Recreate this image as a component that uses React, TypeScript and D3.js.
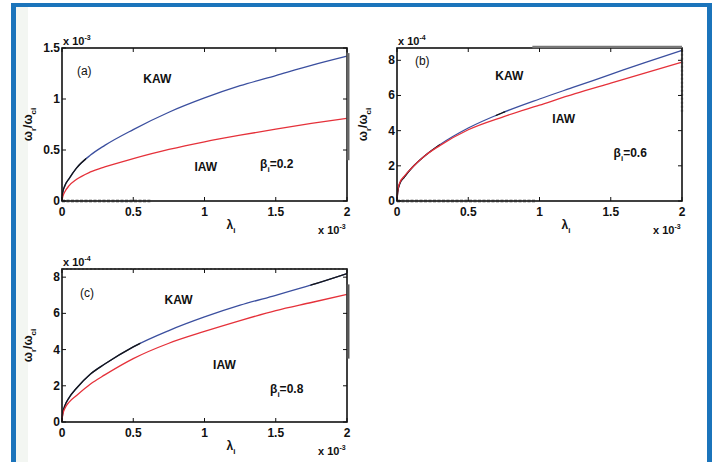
import React from "react";
import * as d3 from "d3";

// ---------- data ----------
const lambdaX = [0, 0.005, 0.02, 0.05, 0.1, 0.2, 0.3, 0.5, 0.75, 1, 1.25, 1.5, 1.75, 2];

const kawA = [0, 0.08, 0.15, 0.22, 0.32, 0.45, 0.545, 0.7, 0.87, 1.01, 1.13, 1.23, 1.33, 1.42];
const iawA = [0, 0.04, 0.09, 0.15, 0.21, 0.285, 0.335, 0.415, 0.505, 0.58, 0.645, 0.705, 0.76, 0.81];

const kawB = [0, 0.5, 1.0, 1.35, 1.85, 2.6, 3.2, 4.15, 5.05, 5.8, 6.5, 7.2, 7.9, 8.56];
const iawB = [0, 0.6, 1.05, 1.4, 1.85, 2.6, 3.15, 4.05, 4.8, 5.45, 6.1, 6.7, 7.3, 7.9];

const kawC = [0, 0.5, 0.9, 1.35, 1.85, 2.65, 3.2, 4.15, 5.05, 5.8, 6.45, 7.0, 7.57, 8.2];
const iawC = [0, 0.4, 0.75, 1.1, 1.45, 2.1, 2.6, 3.5, 4.35, 5.0, 5.6, 6.15, 6.6, 7.05];

const xTicks = [0, 0.5, 1, 1.5, 2];
const yTicksA = [0, 0.5, 1, 1.5];
const yTicksBC = [0, 2, 4, 6, 8];

const panelLabels = ["(a)", "(b)", "(c)"];
const betaValues = ["0.2", "0.6", "0.8"];
const yExponents = ["-3", "-4", "-4"];
const yMaxes = [1.5, 8.7, 8.45];
// black overlay ranges on KAW curve (x in units of 1e-3)
const blackRanges = [
  [[0, 0.17]],
  [[0, 0.3], [0.7, 0.76]],
  [[0, 0.55], [1.75, 2.0]],
];
// annotation anchors in data coords: [label, KAW, IAW, beta]
const annotPos = [
  [[0.105, 1.235], [0.57, 1.157], [0.93, 0.29], [1.39, 0.32]],
  [[0.126, 7.73], [0.69, 6.88], [1.09, 4.43], [1.52, 2.5]],
  [[0.126, 6.9], [0.72, 6.5], [1.06, 2.93], [1.46, 1.6]],
];

// ---------- layout ----------
const W = 717;
const H = 462;
const layouts = [
  { left: 62, top: 48, right: 347, bottom: 201 },
  { left: 397, top: 48, right: 682, bottom: 201 },
  { left: 62, top: 269, right: 347, bottom: 422 },
];
const FONT = "'Liberation Sans', Arial, Helvetica, sans-serif";
const BLUE = "#3b4f9f";
const RED = "#e5313a";
const BLACK = "#161616";

function Panel({ i }: { i: number }) {
  const L = layouts[i];
  const kaw = [kawA, kawB, kawC][i];
  const iaw = [iawA, iawB, iawC][i];
  const yTicks = i === 0 ? yTicksA : yTicksBC;
  const x = d3.scaleLinear().domain([0, 2]).range([L.left, L.right]);
  const y = d3.scaleLinear().domain([0, yMaxes[i]]).range([L.bottom, L.top]);
  const line = d3
    .line<[number, number]>()
    .x((d) => x(d[0]))
    .y((d) => y(d[1]))
    .curve(d3.curveMonotoneX);
  const kawPts = lambdaX.map((v, k) => [v, kaw[k]] as [number, number]);
  const iawPts = lambdaX.map((v, k) => [v, iaw[k]] as [number, number]);
  const tick = 4;
  const ap = annotPos[i];
  const cx = (L.left + L.right) / 2;
  const cy = (L.top + L.bottom) / 2;
  return (
    <g fontFamily={FONT} fontWeight="bold" fill="#111">
      <defs>
        {blackRanges[i].map((r, k) => (
          <clipPath id={`blk-${i}-${k}`} key={k}>
            <rect x={x(r[0]) - 1} y={L.top - 5} width={x(r[1]) - x(r[0]) + 1} height={L.bottom - L.top + 10} />
          </clipPath>
        ))}
      </defs>
      {/* curves */}
      <path d={line(kawPts) || ""} fill="none" stroke={BLUE} strokeWidth={1.3} />
      {blackRanges[i].map((r, k) => (
        <path key={k} d={line(kawPts) || ""} fill="none" stroke={BLACK} strokeWidth={1.3} clipPath={`url(#blk-${i}-${k})`} />
      ))}
      <path d={line(iawPts) || ""} fill="none" stroke={RED} strokeWidth={1.3} />
      {/* box */}
      <rect x={L.left} y={L.top} width={L.right - L.left} height={L.bottom - L.top} fill="none" stroke="#111" strokeWidth={1.6} />
      {/* scan artifacts */}
      {i === 0 && (
        <>
          <line x1={x(0)} x2={x(0.62)} y1={L.bottom} y2={L.bottom} stroke="#333" strokeWidth={2.5} strokeDasharray="3,1.5" />
          <line x1={L.right + 1} x2={L.right + 1} y1={y(1.45)} y2={y(0.4)} stroke="#666" strokeWidth={3} />
        </>
      )}
      {i === 1 && (
        <>
          <line x1={x(0)} x2={x(0.97)} y1={L.bottom} y2={L.bottom} stroke="#333" strokeWidth={2.5} strokeDasharray="3,1.5" />
          <line x1={x(0.95)} x2={x(2)} y1={L.top - 1} y2={L.top - 1} stroke="#777" strokeWidth={2.5} />
          <line x1={L.right} x2={L.right} y1={y(8.6)} y2={y(5)} stroke="#333" strokeWidth={2.2} strokeDasharray="2,2" />
        </>
      )}
      {i === 2 && (
        <>
          <line x1={x(0)} x2={x(2)} y1={L.top} y2={L.top} stroke="#333" strokeWidth={2.2} strokeDasharray="2,2" />
          <line x1={L.right + 1} x2={L.right + 1} y1={y(7.6)} y2={y(3.5)} stroke="#555" strokeWidth={3} />
        </>
      )}
      {/* x ticks */}
      {xTicks.map((t) => (
        <g key={"x" + t}>
          <line x1={x(t)} x2={x(t)} y1={L.bottom} y2={L.bottom - tick} stroke="#111" strokeWidth={1} />
          <line x1={x(t)} x2={x(t)} y1={L.top} y2={L.top + tick} stroke="#111" strokeWidth={1} />
          <text x={x(t)} y={L.bottom + 15} fontSize={12} textAnchor="middle">
            {String(t)}
          </text>
        </g>
      ))}
      {/* y ticks */}
      {yTicks.map((t) => (
        <g key={"y" + t}>
          <line x1={L.left} x2={L.left + tick} y1={y(t)} y2={y(t)} stroke="#111" strokeWidth={1} />
          <line x1={L.right} x2={L.right - tick} y1={y(t)} y2={y(t)} stroke="#111" strokeWidth={1} />
          <text x={L.left - 2} y={y(t) + 4} fontSize={12} textAnchor="end">
            {String(t)}
          </text>
        </g>
      ))}
      {/* exponent labels */}
      <text x={L.left + 1} y={L.top - 3} fontSize={11}>
        x 10<tspan dy={-5} fontSize={7}>{yExponents[i]}</tspan>
      </text>
      <text x={L.right - 29} y={L.bottom + 33} fontSize={11}>
        x 10<tspan dy={-5} fontSize={7}>-3</tspan>
      </text>
      {/* axis labels */}
      <text x={cx + 22} y={L.bottom + 28} fontSize={12}>
        λ<tspan dy={4} fontSize={8}>i</tspan>
      </text>
      <text transform={`translate(${L.left - 30},${cy}) rotate(-90)`} fontSize={12} textAnchor="middle">
        ω<tspan dy={4} fontSize={8}>r</tspan>
        <tspan dy={-4}>/ω</tspan>
        <tspan dy={4} fontSize={8}>ci</tspan>
      </text>
      {/* annotations */}
      <text x={x(ap[0][0])} y={y(ap[0][1])} fontSize={12} fontWeight="normal">
        {panelLabels[i]}
      </text>
      <text x={x(ap[1][0])} y={y(ap[1][1])} fontSize={12}>
        KAW
      </text>
      <text x={x(ap[2][0])} y={y(ap[2][1])} fontSize={12}>
        IAW
      </text>
      <text x={x(ap[3][0])} y={y(ap[3][1])} fontSize={12}>
        β<tspan dy={4} fontSize={8}>i</tspan>
        <tspan dy={-4}>={betaValues[i]}</tspan>
      </text>
    </g>
  );
}

export default function App() {
  return (
    <svg
      width={W}
      height={H}
      viewBox={`0 0 ${W} ${H}`}
      style={{ position: "absolute", left: 0, top: 0, background: "#fff" }}
    >
      <rect x={0} y={0} width={W} height={H} fill="#fff" />
      {/* frame */}
      <rect x={16} y={7} width={12} height={H - 7} fill="#f3f6f2" />
      <rect x={11} y={3} width={701} height={4} fill="#1b74bb" />
      <rect x={11} y={3} width={5} height={H - 3} fill="#1b74bb" />
      <rect x={707} y={3} width={5} height={H - 3} fill="#1b74bb" />
      {[0, 1, 2].map((i) => (
        <Panel key={i} i={i} />
      ))}
    </svg>
  );
}
